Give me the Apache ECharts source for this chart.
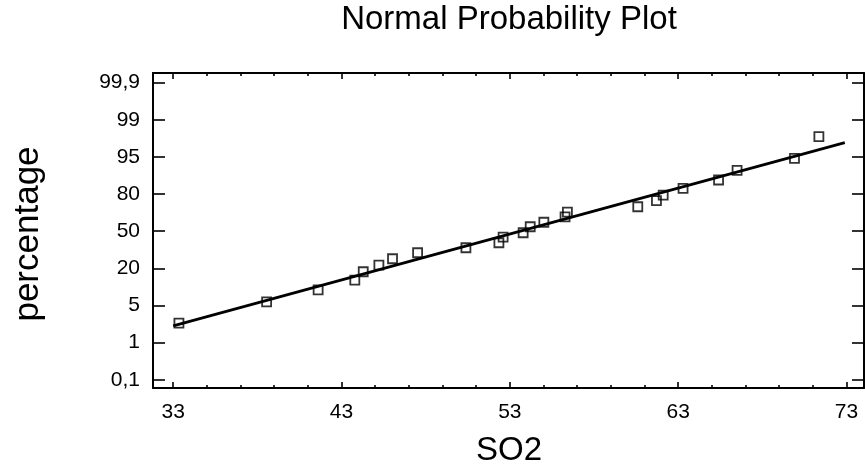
<!DOCTYPE html>
<html>
<head>
<meta charset="utf-8">
<script src="https://cdn.jsdelivr.net/npm/echarts@6/dist/echarts.min.js"></script>
<style>html,body{margin:0;padding:0;background:#fff;}#c{width:865px;height:470px;}</style>
</head>
<body>
<div id="c"></div>
<script>
// Data (y = position on the probability scale, 0 = 0.1% ... 8 = 99.9%)
const so2 = [33.34, 38.55, 41.61, 43.79, 44.29, 45.22, 46.03, 47.52, 50.39, 52.35, 52.60, 53.79,
             54.21, 55.02, 56.28, 56.42, 60.60, 61.71, 62.11, 63.29, 65.40, 66.50, 69.91, 71.36];
const pctPos = [1.527, 2.101, 2.424, 2.686, 2.909, 3.090, 3.259, 3.421, 3.556, 3.690, 3.844, 3.960,
                4.121, 4.242, 4.388, 4.517, 4.660, 4.822, 4.975, 5.156, 5.379, 5.640, 5.964, 6.545];
const fitX = [33, 72.9];
const fitY = [1.455, 6.384];
const yTickLabels = ['0,1', '1', '5', '20', '50', '80', '95', '99', '99,9'];
const yTickPos = [0, 1, 2, 3, 4, 5, 6, 7, 8];
const xMajor = [33, 43, 53, 63, 73];
const xMinor = [35, 37, 39, 41, 45, 47, 49, 51, 55, 57, 59, 61, 65, 67, 69, 71];

const FONT = 'Liberation Sans, Arial, sans-serif';
const X_MIN = 31.8, X_MAX = 74.04, Y_MIN = -0.22, Y_MAX = 8.26;
const lineCol = '#000';

function xAx(pos, ticks, len, showLine, showLabel) {
  return {
    type: 'value', position: pos, min: X_MIN, max: X_MAX,
    axisLine: { show: showLine, onZero: false, lineStyle: { color: lineCol, width: 2 } },
    axisTick: { show: true, inside: true, length: len, customValues: ticks, lineStyle: { color: lineCol, width: 1.6 } },
    axisLabel: { show: showLabel, customValues: ticks, margin: 14, color: '#000', fontSize: 21, fontFamily: FONT },
    splitLine: { show: false }
  };
}
function yAx(pos, showLabel) {
  return {
    type: 'value', position: pos, min: Y_MIN, max: Y_MAX,
    axisLine: { show: true, onZero: false, lineStyle: { color: lineCol, width: 2 } },
    axisTick: { show: true, inside: true, length: 12, customValues: yTickPos, lineStyle: { color: lineCol, width: 1.6 } },
    axisLabel: { show: showLabel, customValues: yTickPos, margin: 13, color: '#000', fontSize: 21, fontFamily: FONT,
      formatter: function (v) { return yTickLabels[Math.round(v)]; } },
    splitLine: { show: false }
  };
}

const chart = echarts.init(document.getElementById('c'), null, { renderer: 'canvas' });
chart.setOption({
  animation: false,
  backgroundColor: '#fff',
  grid: { left: 153, right: 1, top: 73, bottom: 82, containLabel: false },
  xAxis: [
    xAx('bottom', xMajor, 6, true, true),
    xAx('bottom', xMinor, 3, false, false),
    xAx('top', xMajor, 6, true, false),
    xAx('top', xMinor, 3, false, false)
  ],
  yAxis: [yAx('left', true), yAx('right', false)],
  graphic: [
    { type: 'text', x: 509, y: 20, style: { text: 'Normal Probability Plot', align: 'center', verticalAlign: 'middle', fill: '#000', font: '33px ' + FONT } },
    { type: 'text', x: 509, y: 451, style: { text: 'SO2', align: 'center', verticalAlign: 'middle', fill: '#000', font: '33px ' + FONT } },
    { type: 'text', x: 28, y: 234, rotation: Math.PI / 2, style: { text: 'percentage', align: 'center', verticalAlign: 'middle', fill: '#000', font: '35px ' + FONT } }
  ],
  series: [
    {
      type: 'scatter', xAxisIndex: 0, yAxisIndex: 0,
      symbol: 'rect', symbolSize: 9,
      itemStyle: { color: 'rgba(255,255,255,0)', borderColor: '#000', borderWidth: 1.8 },
      data: so2.map((v, i) => [v, pctPos[i]]),
      z: 3
    },
    {
      type: 'line', xAxisIndex: 0, yAxisIndex: 0,
      showSymbol: false, symbol: 'none',
      lineStyle: { color: '#000', width: 2.8 },
      data: fitX.map((v, i) => [v, fitY[i]]),
      z: 4
    }
  ]
});
</script>
</body>
</html>
